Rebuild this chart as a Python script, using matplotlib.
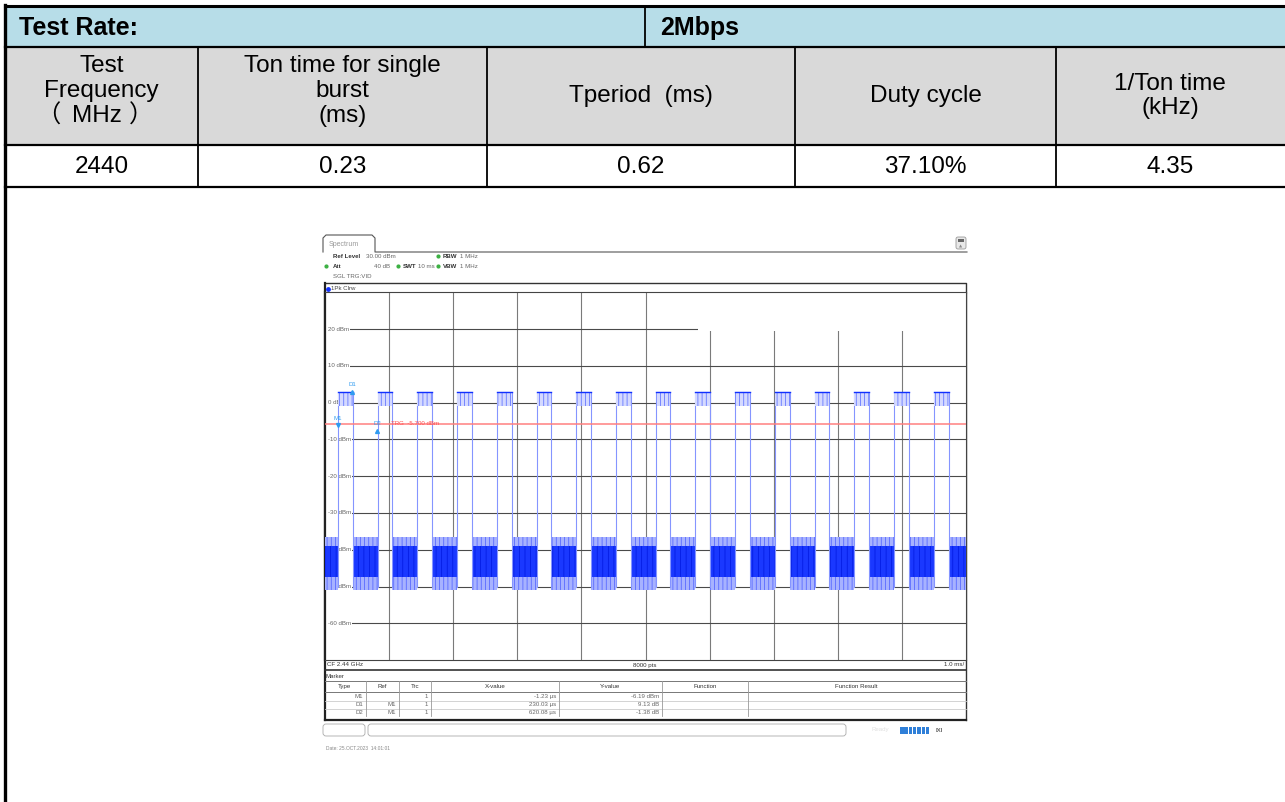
import numpy as np
import matplotlib.pyplot as plt
from matplotlib.patches import Rectangle, FancyBboxPatch

# ---- table contents ----
rate_label = "Test Rate:"
rate_value = "2Mbps"
col_headers = [["Test", "Frequency", "（MHz）"], ["Ton time for single", "burst", "(ms)"],
               ["Tperiod  (ms)"], ["Duty cycle"], ["1/Ton time", "(kHz)"]]
row_values = ["2440", "0.23", "0.62", "37.10%", "4.35"]
col_edges = [5, 198, 487, 795, 1056, 1290]

# ---- spectrum screenshot values (zero span, 1 ms/div) ----
sweep_ms = (-0.2, 9.8)
burst_start_ms = [0.00, 0.62, 1.24, 1.86, 2.48, 3.10, 3.72, 4.34,
                  4.96, 5.58, 6.20, 6.82, 7.44, 8.06, 8.68, 9.30]
ton_ms = 0.23
burst_top = 2.8
burst_band = (-1.0, 2.8)
edge_low = -50
noise_outer = (-51.0, -36.5)
noise_core = (-47.5, -39.0)
trg_level = -5.7
ref_levels = [20, 10, 0, -10, -20, -30, -40, -50, -60]

marker_names = ["M1", "D1", "D2"]
marker_ref = ["", "M1", "M1"]
marker_x_us = [-1.23, 230.03, 620.08]
marker_y_val = [-6.19, 9.13, -1.38]
marker_x_txt = ["-1.23 µs", "230.03 µs", "620.08 µs"]
marker_y_txt = ["-6.19 dBm", "9.13 dB", "-1.38 dB"]
mk_cols = ["Type", "Ref", "Trc", "X-value", "Y-value", "Function", "Function Result"]
mk_edges = [323, 366, 399, 431, 559, 662, 748, 965]

tfont = ['Liberation Sans', 'Noto Sans CJK SC']
sfont = 'Liberation Sans'
mblue = '#2f9bf0'
plt.rcParams['hatch.linewidth'] = 0.5

fig = plt.figure(figsize=(12.85, 8.02), dpi=100)
ax = fig.add_axes([0, 0, 1, 1])
ax.set_xlim(0, 1285)
ax.set_ylim(802, 0)
ax.axis('off')

# ---- table ----
ax.add_patch(Rectangle((5, 6), 1285, 41, color='#b7dde8', lw=0))
ax.add_patch(Rectangle((5, 47), 1285, 98, color='#d9d9d9', lw=0))
ax.plot([5, 1285], [6, 6], color='k', lw=2.2)
for yy in [47, 145, 187]:
    ax.plot([5, 1285], [yy, yy], color='k', lw=1.6)
ax.plot([5, 5], [5, 802], color='k', lw=2.4)
ax.plot([645, 645], [6, 47], color='k', lw=1.3)
for xx in col_edges[1:-1]:
    ax.plot([xx, xx], [47, 187], color='k', lw=1.3)

fs = 17.5
ax.text(19, 28, rate_label, fontsize=18, fontweight='bold', family=tfont, va='center')
ax.text(660, 28, rate_value, fontsize=18, fontweight='bold', family=tfont, va='center')
for i, lines in enumerate(col_headers):
    cx = (col_edges[i] + col_edges[i + 1]) / 2
    if i == 4:
        cx = 1170
    if len(lines) == 3:
        ys = [66, 91, 116]
    elif len(lines) == 2:
        ys = [84, 108]
    else:
        ys = [96]
    for s, yy in zip(lines, ys):
        if s.startswith('（'):
            # full-width brackets placed one by one, as spaced in the source
            ax.text(cx - 53, yy, s[0], fontsize=fs, family=tfont, ha='center', va='center')
            ax.text(cx - 4.5, yy, s[1:-1], fontsize=fs, family=tfont, ha='center', va='center')
            ax.text(cx + 40, yy, s[-1], fontsize=fs, family=tfont, ha='center', va='center')
        else:
            ax.text(cx, yy, s, fontsize=fs, family=tfont, ha='center', va='center')
    ax.text(cx, 167, row_values[i], fontsize=fs, family=tfont, ha='center', va='center')

# ---- screenshot decorations (pixel coords) ----
gray = '#555555'
ax.plot([323, 323, 326, 372, 375, 375, 967], [252, 238, 235, 235, 238, 252, 252], color=gray, lw=0.8)
ax.text(329, 244, "Spectrum", fontsize=5, color='#999999', family=sfont, va='center')
ax.add_patch(FancyBboxPatch((956, 237), 10, 12, boxstyle='round,pad=0,rounding_size=2',
                            fc='#e8e8e8', ec='#999999', lw=0.6))
ax.add_patch(Rectangle((958, 239), 6, 2.5, fc='#666666', lw=0))
ax.text(961, 246, "▲", fontsize=3, color='#888888', ha='center', va='center', family='DejaVu Sans')


def info(x, y, s, bold=False, c='#333333', ha='left'):
    ax.text(x, y, s, fontsize=4.4, family=sfont, va='center', ha=ha, color=c,
            fontweight='bold' if bold else 'normal')


info(333, 256, "Ref Level", True)
info(366, 256, "30.00 dBm", c='#666666')
info(443, 256, "RBW", True)
info(460, 256, "1 MHz", c='#666666')
info(333, 266, "Att", True)
info(374, 266, "40 dB", c='#666666')
info(403, 266, "SWT", True)
info(418, 266, "10 ms", c='#666666')
info(443, 266, "VBW", True)
info(460, 266, "1 MHz", c='#666666')
info(333, 277, "SGL TRG:VID", c='#666666')
ax.scatter([437.5, 326, 398, 437.5], [256, 266, 266, 266], s=4, color='#3cb043', zorder=3)

# trace box frame
ax.plot([324.5, 966, 966], [282.5, 282.5, 720], color='#333333', lw=1.0)
ax.plot([324.5, 324.5], [282.5, 720], color='#222222', lw=1.6)
ax.scatter([328], [288.5], s=6, color='#1030ff', zorder=3)
info(331, 288.5, "1Pk Clrw", c='#444444')
ax.plot([325, 966], [292.5, 292.5], color='#444444', lw=0.8)
ax.plot([325, 966], [670, 670], color='#333333', lw=1.2)
info(327, 665, "CF 2.44 GHz")
info(645, 665, "8000 pts", ha='center')
info(964, 665, "1.0 ms/", ha='right')

# marker table
info(326, 676, "Marker")
ax.plot([325, 966], [681, 681], color='#777777', lw=0.7)
ax.plot([325, 966], [692, 692], color='#777777', lw=0.7)
for yy in [700.5, 708.5]:
    ax.plot([325, 966], [yy, yy], color='#cccccc', lw=0.6)
for xx in mk_edges[1:-1]:
    ax.plot([xx, xx], [681, 716], color='#999999', lw=0.6)
for i, c in enumerate(mk_cols):
    info((mk_edges[i] + mk_edges[i + 1]) / 2, 686.5, c, ha='center')
for r in range(3):
    yy = 696.5 + r * 8.2
    g = '#666666'
    info(mk_edges[1] - 3, yy, marker_names[r], c=g, ha='right')
    info(mk_edges[2] - 3, yy, marker_ref[r], c=g, ha='right')
    info(mk_edges[3] - 3, yy, "1", c=g, ha='right')
    info(mk_edges[4] - 3, yy, marker_x_txt[r], c=g, ha='right')
    info(mk_edges[5] - 3, yy, marker_y_txt[r], c=g, ha='right')
ax.plot([324.5, 966], [720, 720], color='#222222', lw=1.6)

# status bar
ax.add_patch(FancyBboxPatch((323, 724), 42, 12, boxstyle='round,pad=0,rounding_size=3',
                            fc='white', ec='#aaaaaa', lw=0.6))
ax.add_patch(FancyBboxPatch((368, 724), 478, 12, boxstyle='round,pad=0,rounding_size=3',
                            fc='white', ec='#aaaaaa', lw=0.6))
info(872, 730, "Ready", c='#e0e0e0')
for k in range(7):
    ax.add_patch(Rectangle((900 + k * 4.3, 727), 3.5, 6.5, fc='#2f7fd8', lw=0))
info(936, 730, "IXI", bold=True, c='#666666')
ax.text(326, 748, "Date: 25.OCT.2023  14:01:01", fontsize=3.5, family=sfont, va='center', color='#888888')

# ---- spectrum trace ----
ax2 = fig.add_axes([325 / 1285, (802 - 660) / 802, 641 / 1285, 367.5 / 802])
ax2.set_xlim(*sweep_ms)
ax2.set_ylim(-70, 30)
ax2.set_xticks([])
ax2.set_yticks([])
for s in ['top', 'right', 'bottom']:
    ax2.spines[s].set_color('#444444')
    ax2.spines[s].set_linewidth(0.8)
ax2.spines['left'].set_color('#222222')
ax2.spines['left'].set_linewidth(1.6)

for k in range(1, 10):
    ax2.axvline(sweep_ms[0] + k, color='#7a7a7a', lw=0.8, zorder=1)
for lv in ref_levels:
    ax2.axhline(lv, color='#4a4a4a', lw=0.8, zorder=1)
    ax2.text(sweep_ms[0] + 0.04, lv, f"{lv} dBm", fontsize=4.4, family=sfont, color='#666666',
             va='center', zorder=2, bbox=dict(fc='white', ec='none', pad=0.8))
# marker info area covers the grid at top right
ax2.add_patch(Rectangle((5.62, 19.4), 4.5, 11, fc='white', ec='none', zorder=2))

# noise floor between bursts
gap_start = [sweep_ms[0]] + [b + ton_ms for b in burst_start_ms]
gap_end = burst_start_ms + [sweep_ms[1]]
for a, b in zip(gap_start, gap_end):
    ax2.add_patch(Rectangle((a, noise_outer[0]), b - a, noise_outer[1] - noise_outer[0],
                            fc='#a7b2ff', ec='#4a5cff', hatch='||||', lw=0, zorder=3))
    ax2.add_patch(Rectangle((a, noise_core[0]), b - a, noise_core[1] - noise_core[0],
                            fc='#1a38ff', ec='#0018e0', hatch='|||', lw=0, zorder=3))

# bursts
for b in burst_start_ms:
    ax2.plot([b, b, b + ton_ms, b + ton_ms], [edge_low, burst_top, burst_top, edge_low],
             color='#8595ff', lw=0.8, zorder=3)
    ax2.add_patch(Rectangle((b, burst_band[0]), ton_ms, burst_band[1] - burst_band[0],
                            fc='#d4d9ff', ec='#5066ff', hatch='||||', lw=0, zorder=3))
    ax2.plot([b, b + ton_ms], [burst_top, burst_top], color='#1030ff', lw=1.0, zorder=3)

# trigger line
ax2.axhline(trg_level, color='#ff8080', lw=1.1, zorder=4)
ax2.text(0.83, trg_level, "TRG  -5.700 dBm", fontsize=4.4, family=sfont, color='#ff5050',
         va='center', zorder=5)

# markers
m1x = marker_x_us[0] / 1000
m1y = marker_y_val[0]
mx = [m1x, m1x + marker_x_us[1] / 1000, m1x + marker_x_us[2] / 1000]
my = [m1y, m1y + marker_y_val[1], m1y + marker_y_val[2]]
for i in range(3):
    ax2.plot(mx[i], my[i], marker='v' if i == 0 else '^', ms=2.8, color=mblue, zorder=6)
    ax2.text(mx[i], my[i] + 1.3, marker_names[i], fontsize=4.4, family=sfont, color=mblue,
             ha='center', va='bottom', zorder=6)

# marker readout
info(698, 299, "M1[1]", c=mblue)
info(698, 318, "D1[1]", c=mblue)
readout = ["-6.19 dBm", "-1.23 µs", "9.13 dB", "230.03 µs"]
for j, s in enumerate(readout):
    info(963, 299 + j * 9.4, s, bold=True, c=mblue, ha='right')

fig.savefig("out.png", dpi=100)
